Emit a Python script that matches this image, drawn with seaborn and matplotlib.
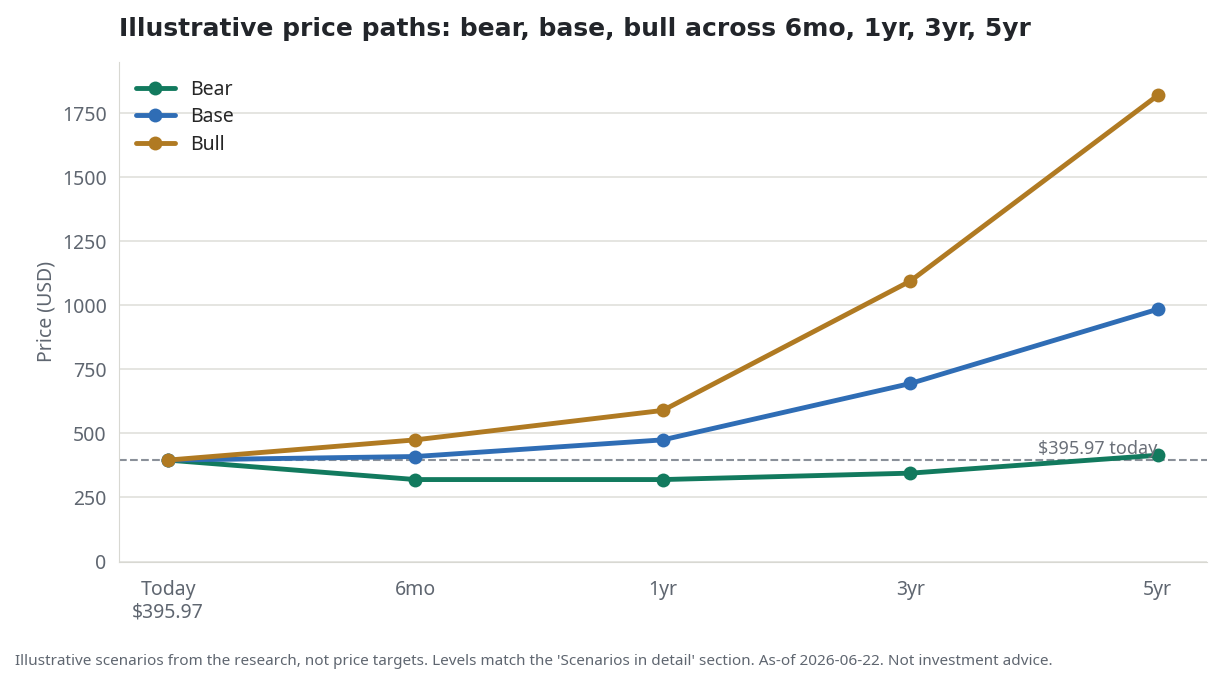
import matplotlib
matplotlib.use("Agg")
import pandas as pd
import seaborn as sns
from matplotlib import pyplot as plt

horizons = ["Today\n$395.97", "6mo", "1yr", "3yr", "5yr"]
bear = [395.97, 320, 320, 345, 415]
base = [395.97, 410, 475, 695, 985]
bull = [395.97, 475, 590, 1095, 1820]
today_price = 395.97

sns.set_style("white")
plt.rcParams["font.family"] = ["Noto Sans", "DejaVu Sans"]

rows = []
for name, vals in [("Bear", bear), ("Base", base), ("Bull", bull)]:
    for i, v in enumerate(vals):
        rows.append({"x": i, "Price": v, "Scenario": name})
df = pd.DataFrame(rows)

palette = {"Bear": "#127a5e", "Base": "#2f6db5", "Bull": "#b07a22"}

fig, ax = plt.subplots(figsize=(12.22, 6.89), dpi=100)
fig.subplots_adjust(left=0.097, right=0.988, top=0.91, bottom=0.185)

sns.lineplot(data=df, x="x", y="Price", hue="Scenario", palette=palette,
             marker="o", markersize=10, markeredgewidth=0, linewidth=3.5, ax=ax)

ax.axhline(today_price, color="#8a9099", linestyle="--", linewidth=1.5, zorder=1)
ax.text(4, today_price + 8, "$395.97 today", ha="right", va="bottom",
        fontsize=13, color="#6b7079")

ax.set_xticks(range(len(horizons)))
ax.set_xticklabels(horizons)
ax.set_xlim(-0.2, 4.2)
ax.set_ylim(0, 1950)
ax.set_yticks([0, 250, 500, 750, 1000, 1250, 1500, 1750])
ax.tick_params(axis="both", labelsize=14, colors="#5f6670", length=5)
ax.tick_params(axis="x", pad=8)
ax.yaxis.grid(True, color="#e0e0dc", linewidth=1.2)
ax.set_axisbelow(True)
for s in ["top", "right"]:
    ax.spines[s].set_visible(False)
for s in ["left", "bottom"]:
    ax.spines[s].set_color("#d8d8d2")
ax.set_xlabel("")
ax.set_ylabel("Price (USD)", fontsize=14, color="#5f6670")

ax.legend(loc="upper left", frameon=False, fontsize=14, handlelength=2,
          labelspacing=0.4, title=None)

fig.text(0.097, 0.958, "Illustrative price paths: bear, base, bull across 6mo, 1yr, 3yr, 5yr",
         fontsize=18, fontweight="bold", family=["DejaVu Sans"], color="#22252a", va="center")
fig.text(0.012, 0.035, "Illustrative scenarios from the research, not price targets. "
         "Levels match the 'Scenarios in detail' section. As-of 2026-06-22. Not investment advice.",
         fontsize=11, color="#5f6670")

fig.savefig("out.png", dpi=100)
